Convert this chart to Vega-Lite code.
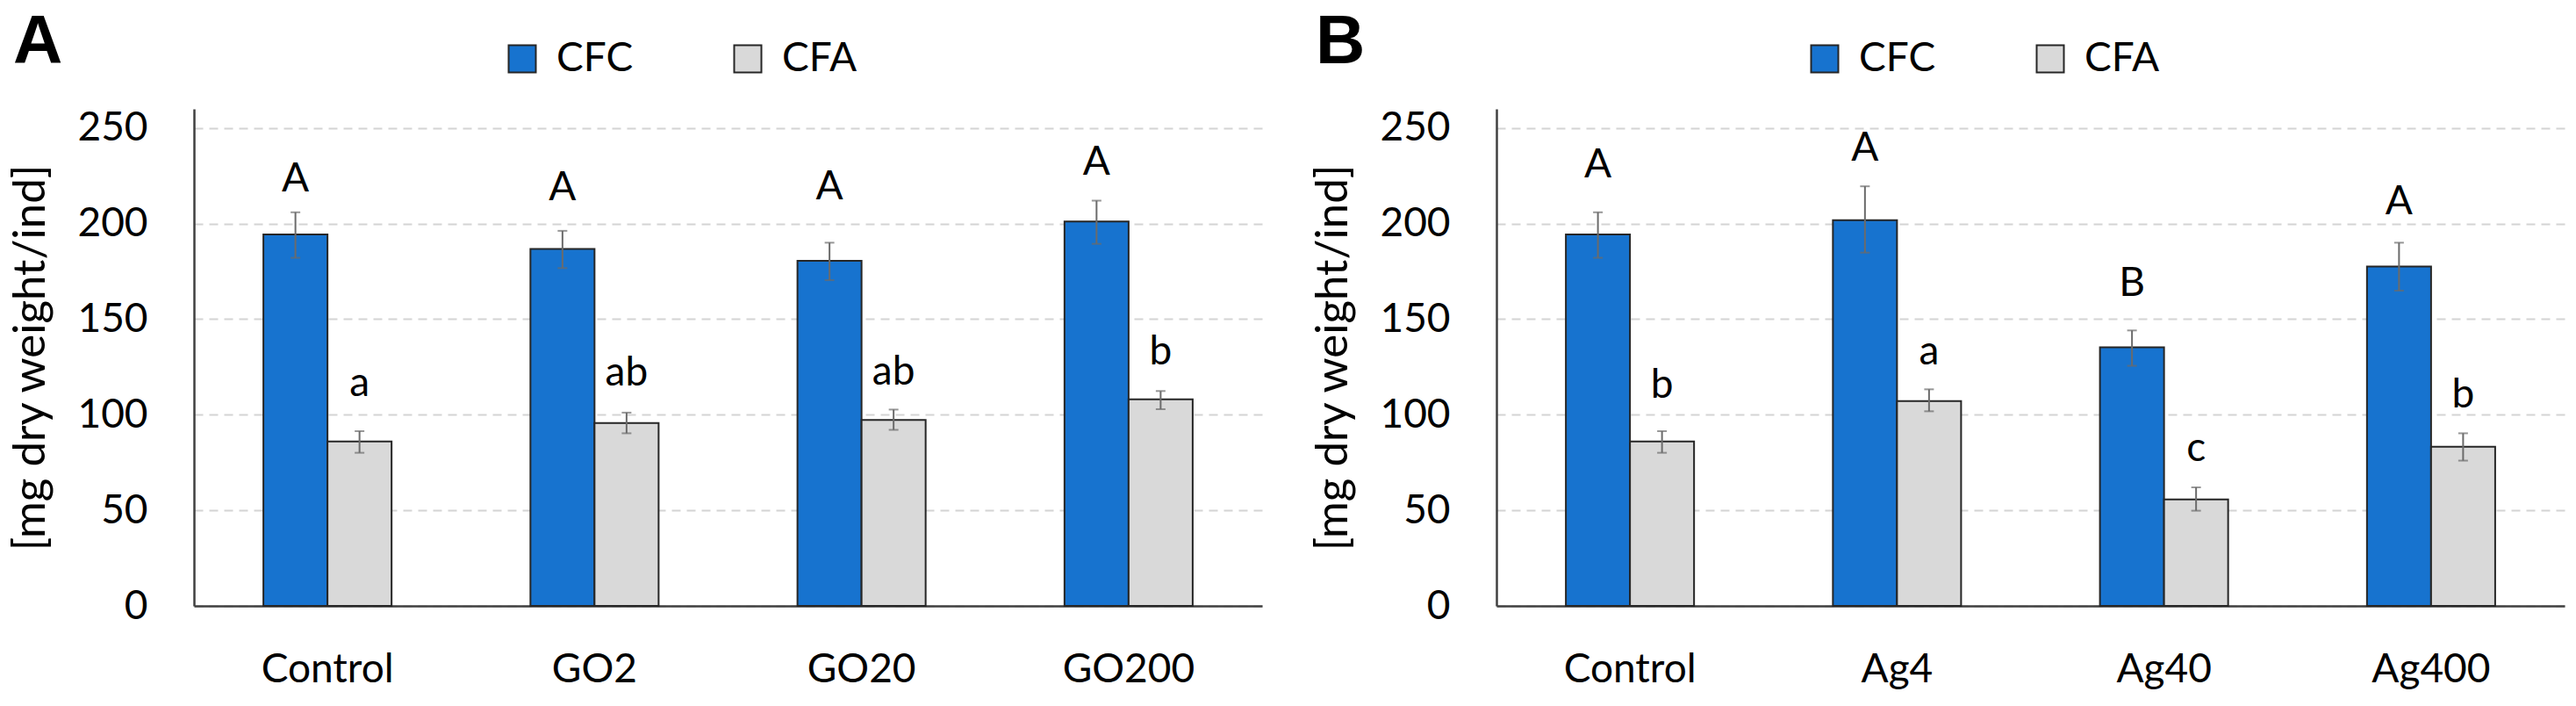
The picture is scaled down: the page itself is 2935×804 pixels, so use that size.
{
  "$schema": "https://vega.github.io/schema/vega-lite/v6.json",
  "autosize": {"type": "none"},
  "padding": {"left": 221, "top": 124, "right": 2714, "bottom": 680},
  "background": "white",
  "data": {
    "values": [
      {"panel": "A", "group": "Control", "series": "CFC", "value": 194.3, "lo": 182.1, "hi": 205.9, "sig": "A", "sig_y": 217.0},
      {"panel": "A", "group": "Control", "series": "CFA", "value": 86.0, "lo": 80.1, "hi": 91.4, "sig": "a", "sig_y": 109.7},
      {"panel": "A", "group": "GO2", "series": "CFC", "value": 186.7, "lo": 176.7, "hi": 196.2, "sig": "A", "sig_y": 212.0},
      {"panel": "A", "group": "GO2", "series": "CFA", "value": 95.7, "lo": 90.3, "hi": 101.1, "sig": "ab", "sig_y": 115.2},
      {"panel": "A", "group": "GO20", "series": "CFC", "value": 180.5, "lo": 170.4, "hi": 190.0, "sig": "A", "sig_y": 212.7},
      {"panel": "A", "group": "GO20", "series": "CFA", "value": 97.3, "lo": 92.1, "hi": 102.7, "sig": "ab", "sig_y": 115.8},
      {"panel": "A", "group": "GO200", "series": "CFC", "value": 201.1, "lo": 189.4, "hi": 212.0, "sig": "A", "sig_y": 225.6},
      {"panel": "A", "group": "GO200", "series": "CFA", "value": 108.1, "lo": 102.9, "hi": 112.4, "sig": "b", "sig_y": 126.5},
      {"panel": "B", "group": "Control", "series": "CFC", "value": 194.3, "lo": 182.1, "hi": 205.9, "sig": "A", "sig_y": 224.0},
      {"panel": "B", "group": "Control", "series": "CFA", "value": 86.0, "lo": 80.1, "hi": 91.4, "sig": "b", "sig_y": 108.8},
      {"panel": "B", "group": "Ag4", "series": "CFC", "value": 201.8, "lo": 184.8, "hi": 219.5, "sig": "A", "sig_y": 232.8},
      {"panel": "B", "group": "Ag4", "series": "CFA", "value": 107.2, "lo": 101.8, "hi": 113.3, "sig": "a", "sig_y": 126.5},
      {"panel": "B", "group": "Ag40", "series": "CFC", "value": 135.3, "lo": 125.6, "hi": 144.1, "sig": "B", "sig_y": 162.2},
      {"panel": "B", "group": "Ag40", "series": "CFA", "value": 55.7, "lo": 49.8, "hi": 62.0, "sig": "c", "sig_y": 75.8},
      {"panel": "B", "group": "Ag400", "series": "CFC", "value": 177.6, "lo": 164.9, "hi": 190.0, "sig": "A", "sig_y": 204.8},
      {"panel": "B", "group": "Ag400", "series": "CFA", "value": 83.3, "lo": 76.0, "hi": 90.3, "sig": "b", "sig_y": 103.8}
    ]
  },
  "bounds": "flush",
  "spacing": 267,
  "resolve": {"scale": {"x": "independent"}, "legend": {"color": "independent"}},
  "hconcat": [
    {
      "title": {"text": "A"},
      "width": 1217,
      "height": 566,
      "transform": [{"filter": "datum.panel === 'A'"}],
      "encoding": {
        "x": {"field": "group", "type": "nominal", "sort": null, "title": null,
              "scale": {"paddingInner": 0.52, "paddingOuter": 0.26}},
        "xOffset": {"field": "series", "type": "nominal", "sort": ["CFC", "CFA"], "scale": {"paddingInner": 0, "paddingOuter": 0}}
      },
      "layer": [
        {
          "mark": {"type": "bar", "stroke": "#262626", "strokeWidth": 2},
          "encoding": {
            "y": {"field": "value", "type": "quantitative", "title": "[mg dry weight/ind]",
                  "scale": {"domain": [0, 250]}, "axis": {"values": [0, 50, 100, 150, 200, 250]}},
            "color": {"field": "series", "type": "nominal", "sort": ["CFC", "CFA"],
                      "scale": {"domain": ["CFC", "CFA"], "range": ["#1773CF", "#D9D9D9"]},
                      "legend": {"title": null}}
          }
        },
        {
          "mark": {"type": "rule", "color": "#6b6b6b", "strokeWidth": 2},
          "encoding": {"y": {"field": "lo", "type": "quantitative"}, "y2": {"field": "hi"}}
        },
        {
          "mark": {"type": "tick", "color": "#6b6b6b", "size": 11, "thickness": 2},
          "encoding": {"y": {"field": "lo", "type": "quantitative"}}
        },
        {
          "mark": {"type": "tick", "color": "#6b6b6b", "size": 11, "thickness": 2},
          "encoding": {"y": {"field": "hi", "type": "quantitative"}}
        },
        {
          "mark": {"type": "text", "font": "Lato", "fontSize": 46, "baseline": "alphabetic", "align": "center", "color": "#000000"},
          "encoding": {"y": {"field": "sig_y", "type": "quantitative"}, "text": {"field": "sig"}}
        }
      ]
    },
    {
      "title": {"text": "B"},
      "width": 1217,
      "height": 566,
      "transform": [{"filter": "datum.panel === 'B'"}],
      "encoding": {
        "x": {"field": "group", "type": "nominal", "sort": null, "title": null,
              "scale": {"paddingInner": 0.52, "paddingOuter": 0.26}},
        "xOffset": {"field": "series", "type": "nominal", "sort": ["CFC", "CFA"], "scale": {"paddingInner": 0, "paddingOuter": 0}}
      },
      "layer": [
        {
          "mark": {"type": "bar", "stroke": "#262626", "strokeWidth": 2},
          "encoding": {
            "y": {"field": "value", "type": "quantitative", "title": "[mg dry weight/ind]",
                  "scale": {"domain": [0, 250]}, "axis": {"values": [0, 50, 100, 150, 200, 250]}},
            "color": {"field": "series", "type": "nominal", "sort": ["CFC", "CFA"],
                      "scale": {"domain": ["CFC", "CFA"], "range": ["#1773CF", "#D9D9D9"]},
                      "legend": {"title": null}}
          }
        },
        {
          "mark": {"type": "rule", "color": "#6b6b6b", "strokeWidth": 2},
          "encoding": {"y": {"field": "lo", "type": "quantitative"}, "y2": {"field": "hi"}}
        },
        {
          "mark": {"type": "tick", "color": "#6b6b6b", "size": 11, "thickness": 2},
          "encoding": {"y": {"field": "lo", "type": "quantitative"}}
        },
        {
          "mark": {"type": "tick", "color": "#6b6b6b", "size": 11, "thickness": 2},
          "encoding": {"y": {"field": "hi", "type": "quantitative"}}
        },
        {
          "mark": {"type": "text", "font": "Lato", "fontSize": 46, "baseline": "alphabetic", "align": "center", "color": "#000000"},
          "encoding": {"y": {"field": "sig_y", "type": "quantitative"}, "text": {"field": "sig"}}
        }
      ]
    }
  ],
  "config": {
    "view": {"stroke": null},
    "font": "Lato",
    "title": {"font": "Liberation Sans", "fontSize": 78, "fontWeight": "bold", "color": "#000000",
              "anchor": "start", "frame": "group", "dx": -206, "offset": -44, "baseline": "alphabetic"},
    "axis": {
      "labelFont": "Lato", "labelFontSize": 46, "labelColor": "#000000",
      "titleFont": "Lato", "titleFontSize": 51, "titleFontWeight": "normal", "titleColor": "#000000",
      "domainColor": "#404040", "domainWidth": 2.5, "ticks": false
    },
    "axisX": {"labelAngle": 0, "labelPadding": 50, "grid": false},
    "axisY": {"labelPadding": 53, "grid": true, "gridColor": "#D4D4D4", "gridDash": [10, 7], "gridWidth": 2, "titlePadding": 26},
    "legend": {
      "orient": "none", "legendX": 351, "legendY": -80, "direction": "horizontal",
      "symbolType": "square", "symbolSize": 961, "symbolStrokeColor": "#262626", "symbolStrokeWidth": 2,
      "labelFont": "Lato", "labelFontSize": 46, "labelColor": "#000000", "labelOffset": 16,
      "columnPadding": 107, "padding": 0, "symbolOpacity": 1
    }
  }
}
